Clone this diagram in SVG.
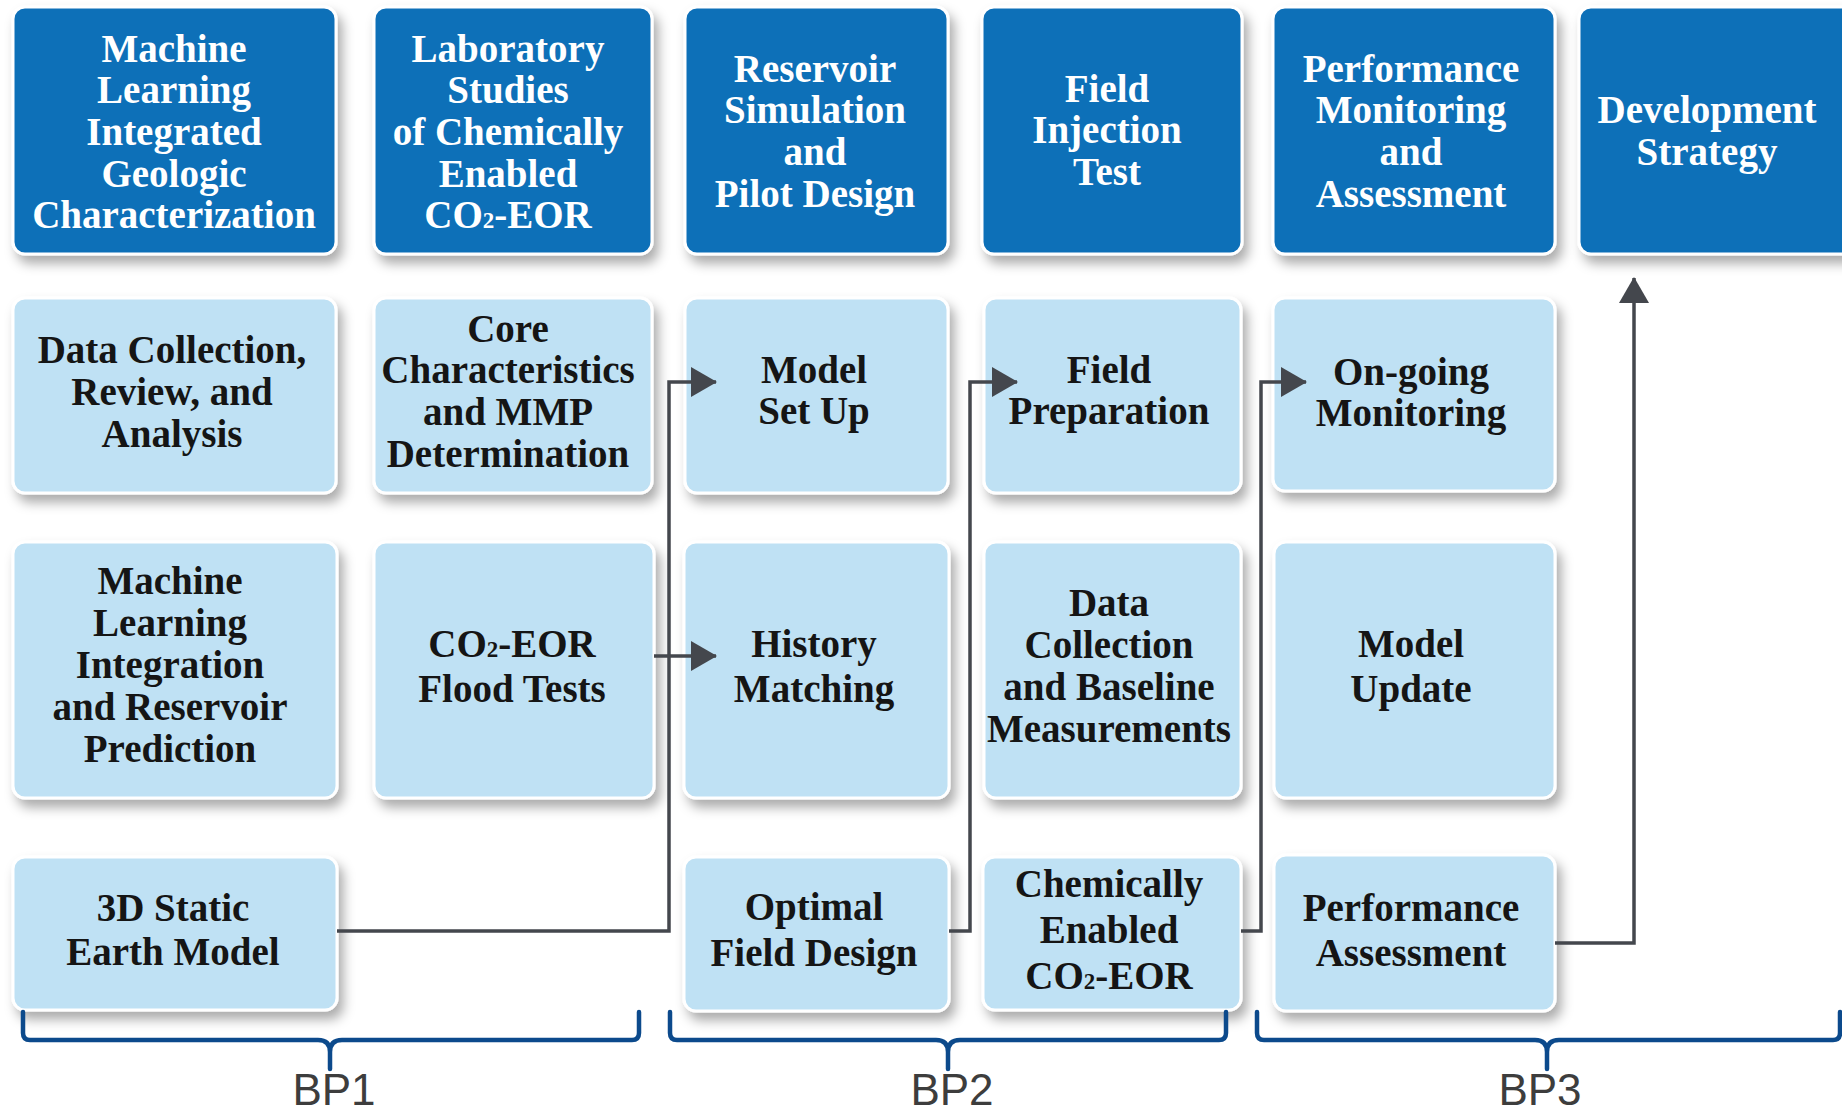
<svg xmlns="http://www.w3.org/2000/svg" width="1842" height="1115" viewBox="0 0 1842 1115">
  <defs>
    <filter id="shadow" x="-10%" y="-10%" width="130%" height="135%">
      <feDropShadow dx="5" dy="8" stdDeviation="6" flood-color="#000" flood-opacity="0.33"/>
    </filter>
    <marker id="arrow" markerUnits="userSpaceOnUse" markerWidth="26" markerHeight="30" viewBox="0 0 26 30" refX="25" refY="15" orient="auto">
      <path d="M0,0 L26,15 L0,30 Z" fill="#44474d"/>
    </marker>
    <style>
      .phase rect { fill: #0f6fb8; stroke: #ffffff; stroke-width: 3; filter: url(#shadow); }
      .task rect { fill: #bfe1f4; stroke: #ffffff; stroke-width: 3; filter: url(#shadow); }
      .phase text, .task text { font-family: "Liberation Serif", "Times New Roman", serif; font-weight: bold; font-size: 39px; text-anchor: middle; }
      .phase text { fill: #ffffff; }
      .task text { fill: #151515; }
      .sub { font-size: 23px; }
      .link { fill: none; stroke: #44474d; stroke-width: 3.5; }
      .brace { fill: none; stroke: #0c4a8c; stroke-width: 4.5; stroke-linecap: round; stroke-linejoin: round; }
      .period { font-family: "Liberation Sans", Arial, sans-serif; font-size: 44px; fill: #3d3d3d; text-anchor: middle; }
    </style>
  </defs>

  <rect width="1842" height="1115" fill="#ffffff"/>

  <!-- Phase headers -->
  <g id="phase-geologic" class="phase">
    <rect x="13" y="7" width="323" height="247" rx="12"/>
    <text x="174"><tspan x="174" y="62">Machine</tspan><tspan x="174" y="103">Learning</tspan><tspan x="174" y="145">Integrated</tspan><tspan x="174" y="187">Geologic</tspan><tspan x="174" y="228">Characterization</tspan></text>
  </g>
  <g id="phase-laboratory" class="phase">
    <rect x="374" y="7" width="278" height="247" rx="12"/>
    <text x="508"><tspan x="508" y="62">Laboratory</tspan><tspan x="508" y="103">Studies</tspan><tspan x="508" y="145">of Chemically</tspan><tspan x="508" y="187">Enabled</tspan></text>
    <text x="508" y="228">CO<tspan class="sub">2</tspan>-EOR</text>
  </g>
  <g id="phase-simulation" class="phase">
    <rect x="685" y="7" width="263" height="247" rx="12"/>
    <text x="815"><tspan x="815" y="82">Reservoir</tspan><tspan x="815" y="123">Simulation</tspan><tspan x="815" y="165">and</tspan><tspan x="815" y="207">Pilot Design</tspan></text>
  </g>
  <g id="phase-injection" class="phase">
    <rect x="982" y="7" width="260" height="247" rx="12"/>
    <text x="1107"><tspan x="1107" y="102">Field</tspan><tspan x="1107" y="143">Injection</tspan><tspan x="1107" y="185">Test</tspan></text>
  </g>
  <g id="phase-monitoring" class="phase">
    <rect x="1273" y="7" width="282" height="247" rx="12"/>
    <text x="1411"><tspan x="1411" y="82">Performance</tspan><tspan x="1411" y="123">Monitoring</tspan><tspan x="1411" y="165">and</tspan><tspan x="1411" y="207">Assessment</tspan></text>
  </g>
  <g id="phase-strategy" class="phase">
    <rect x="1579" y="7" width="285" height="247" rx="12"/>
    <text x="1707"><tspan x="1707" y="123">Development</tspan><tspan x="1707" y="165">Strategy</tspan></text>
  </g>

  <!-- Tasks, row 1 -->
  <g id="task-data-collection" class="task">
    <rect x="13" y="298" width="323" height="195" rx="12"/>
    <text x="172"><tspan x="172" y="363">Data Collection,</tspan><tspan x="172" y="405">Review, and</tspan><tspan x="172" y="447">Analysis</tspan></text>
  </g>
  <g id="task-core" class="task">
    <rect x="374" y="298" width="278" height="195" rx="12"/>
    <text x="508"><tspan x="508" y="342">Core</tspan><tspan x="508" y="383">Characteristics</tspan><tspan x="508" y="425">and MMP</tspan><tspan x="508" y="467">Determination</tspan></text>
  </g>
  <g id="task-model-setup" class="task">
    <rect x="685" y="298" width="263" height="195" rx="12"/>
    <text x="814"><tspan x="814" y="383">Model</tspan><tspan x="814" y="424">Set Up</tspan></text>
  </g>
  <g id="task-field-prep" class="task">
    <rect x="984" y="298" width="257" height="195" rx="12"/>
    <text x="1109"><tspan x="1109" y="383">Field</tspan><tspan x="1109" y="424">Preparation</tspan></text>
  </g>
  <g id="task-ongoing" class="task">
    <rect x="1273" y="298" width="282" height="193" rx="12"/>
    <text x="1411"><tspan x="1411" y="385">On-going</tspan><tspan x="1411" y="426">Monitoring</tspan></text>
  </g>

  <!-- Tasks, row 2 -->
  <g id="task-ml-integration" class="task">
    <rect x="13" y="542" width="324" height="256" rx="12"/>
    <text x="170"><tspan x="170" y="594">Machine</tspan><tspan x="170" y="636">Learning</tspan><tspan x="170" y="678">Integration</tspan><tspan x="170" y="720">and Reservoir</tspan><tspan x="170" y="762">Prediction</tspan></text>
  </g>
  <g id="task-flood-tests" class="task">
    <rect x="374" y="542" width="280" height="256" rx="12"/>
    <text x="512" y="657">CO<tspan class="sub">2</tspan>-EOR</text>
    <text x="512" y="702">Flood Tests</text>
  </g>
  <g id="task-history" class="task">
    <rect x="684" y="542" width="265" height="256" rx="12"/>
    <text x="814"><tspan x="814" y="657">History</tspan><tspan x="814" y="702">Matching</tspan></text>
  </g>
  <g id="task-baseline" class="task">
    <rect x="984" y="542" width="257" height="256" rx="12"/>
    <text x="1109"><tspan x="1109" y="616">Data</tspan><tspan x="1109" y="658">Collection</tspan><tspan x="1109" y="700">and Baseline</tspan><tspan x="1109" y="742">Measurements</tspan></text>
  </g>
  <g id="task-model-update" class="task">
    <rect x="1274" y="542" width="281" height="256" rx="12"/>
    <text x="1411"><tspan x="1411" y="657">Model</tspan><tspan x="1411" y="702">Update</tspan></text>
  </g>

  <!-- Tasks, row 3 -->
  <g id="task-static-model" class="task">
    <rect x="13" y="857" width="324" height="153" rx="12"/>
    <text x="173"><tspan x="173" y="921">3D Static</tspan><tspan x="173" y="965">Earth Model</tspan></text>
  </g>
  <g id="task-field-design" class="task">
    <rect x="684" y="857" width="265" height="154" rx="12"/>
    <text x="814"><tspan x="814" y="920">Optimal</tspan><tspan x="814" y="966">Field Design</tspan></text>
  </g>
  <g id="task-eor" class="task">
    <rect x="983" y="857" width="258" height="153" rx="12"/>
    <text x="1109"><tspan x="1109" y="897">Chemically</tspan><tspan x="1109" y="943">Enabled</tspan></text>
    <text x="1109" y="989">CO<tspan class="sub">2</tspan>-EOR</text>
  </g>
  <g id="task-assessment" class="task">
    <rect x="1274" y="855" width="281" height="156" rx="12"/>
    <text x="1411"><tspan x="1411" y="921">Performance</tspan><tspan x="1411" y="966">Assessment</tspan></text>
  </g>

  <!-- Flow connectors -->
  <g id="connectors">
    <path class="link" d="M337,931 H669 V382 H716" marker-end="url(#arrow)"/>
    <path class="link" d="M654,656 H716" marker-end="url(#arrow)"/>
    <path class="link" d="M949,931 H970 V382 H1017" marker-end="url(#arrow)"/>
    <path class="link" d="M1241,931 H1261 V382 H1306" marker-end="url(#arrow)"/>
    <path class="link" d="M1555,943 H1634 V278" marker-end="url(#arrow)"/>
  </g>

  <!-- Budget period braces -->
  <g id="braces">
    <path class="brace" d="M23,1012 V1033 Q23,1040 30,1040 H318 Q330,1040 330,1052 V1069 M330,1052 Q330,1040 342,1040 H632 Q639,1040 639,1033 V1012"/>
    <path class="brace" d="M670,1012 V1033 Q670,1040 677,1040 H936 Q948,1040 948,1052 V1069 M948,1052 Q948,1040 960,1040 H1219 Q1226,1040 1226,1033 V1012"/>
    <path class="brace" d="M1257,1012 V1033 Q1257,1040 1264,1040 H1535 Q1547,1040 1547,1052 V1069 M1547,1052 Q1547,1040 1559,1040 H1833 Q1840,1040 1840,1033 V1012"/>
    <text class="period" x="334" y="1105">BP1</text>
    <text class="period" x="952" y="1105">BP2</text>
    <text class="period" x="1540" y="1105">BP3</text>
  </g>
</svg>
